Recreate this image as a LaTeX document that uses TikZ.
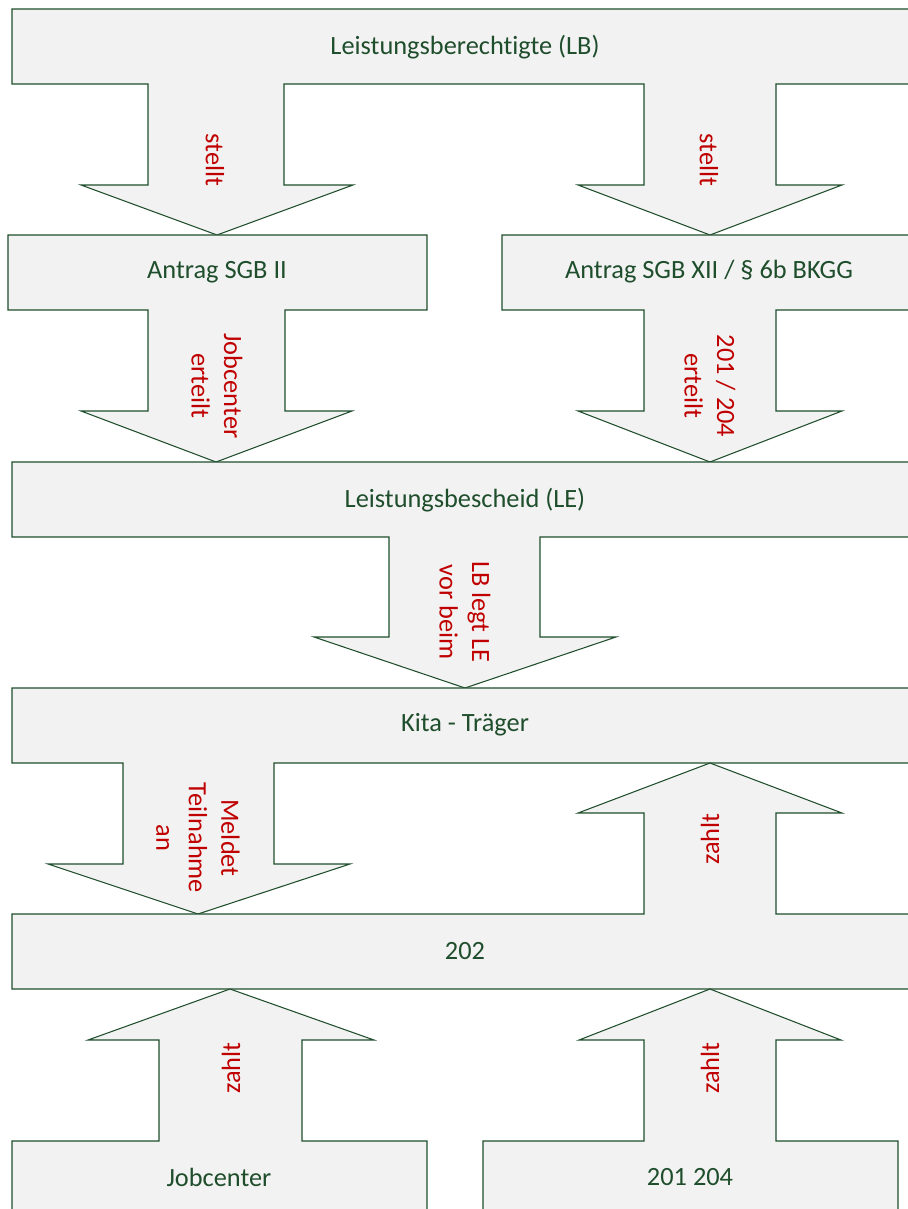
\documentclass[tikz,border=0pt]{standalone}
\usepackage{xcolor}
\usepackage{fontspec}
\setmainfont{Carlito}[Ligatures=NoCommon]
\usepackage{tikz}
\definecolor{fqfqfq}{rgb}{0.949,0.949,0.949}
\definecolor{cqqqqq}{rgb}{0.753,0.,0.}
\definecolor{qqcqqq}{rgb}{0.122,0.306,0.173}
\tikzstyle{every node}=[font=\fontsize{15}{18.5}\selectfont]
\tikzset{blockpart/.style={line width=0.6pt,draw=qqcqqq,fill=fqfqfq,line join=miter},
  boxlabel/.style={text=qqcqqq},
  downlabel/.style={text=cqqqqq,rotate=-90,align=center},
  uplabel/.style={text=cqqqqq,rotate=90,align=center}}

\begin{document}
\begin{tikzpicture}[line cap=round,x=0.02cm,y=-0.02cm]
\useasboundingbox (0,0) rectangle (908,1209);
\clip (0,0) rectangle (908,1209);
% Leistungsberechtigte with its two arrows
\draw [blockpart] (12,9) -- (915,9) -- (915,84) -- (776,84) -- (776,185) -- (842,185) -- (710,235) -- (578,185) -- (644,185) -- (644,84) -- (284,84) -- (284,185) -- (353,185) -- (217,235) -- (81,185) -- (148,185) -- (148,84) -- (12,84) -- cycle;
% the two applications
\draw [blockpart] (8,235) -- (427,235) -- (427,310) -- (285,310) -- (285,411) -- (352,411) -- (216,462) -- (81,411) -- (148,411) -- (148,310) -- (8,310) -- cycle;
\draw [blockpart] (502,235) -- (915,235) -- (915,310) -- (776,310) -- (776,411) -- (842,411) -- (710,462) -- (578,411) -- (644,411) -- (644,310) -- (502,310) -- cycle;
% Leistungsbescheid
\draw [blockpart] (12,462) -- (915,462) -- (915,537) -- (540,537) -- (540,637) -- (616,637) -- (465,688) -- (314,637) -- (389,637) -- (389,537) -- (12,537) -- cycle;
% Kita
\draw [blockpart] (12,688) -- (915,688) -- (915,763) -- (274,763) -- (274,864) -- (350,864) -- (198,914) -- (48,864) -- (123,864) -- (123,763) -- (12,763) -- cycle;
% 202 with the arrow up to Kita
\draw [blockpart] (12,914) -- (644,914) -- (644,813) -- (578,813) -- (710,763) -- (842,813) -- (776,813) -- (776,914) -- (915,914) -- (915,989) -- (12,989) -- cycle;
% payers
\draw [blockpart] (12,1215) -- (12,1141) -- (159,1141) -- (159,1040) -- (88,1040) -- (230,989) -- (374,1040) -- (302,1040) -- (302,1141) -- (427,1141) -- (427,1215);
\draw [blockpart] (483,1215) -- (483,1141) -- (644,1141) -- (644,1040) -- (579,1040) -- (710,989) -- (841,1040) -- (776,1040) -- (776,1141) -- (898,1141) -- (898,1215);

\node [boxlabel] (lb) at (465,47) {Leistungsberechtigte (LB)};
\node [boxlabel] (sgbii) at (217,272) {Antrag SGB II};
\node [boxlabel] (sgbxii) at (709,272) {Antrag SGB XII / § 6b BKGG};
\node [boxlabel] (le) at (465,500) {Leistungsbescheid (LE)};
\node [boxlabel] (kita) at (465,725) {Kita - Träger};
\node [boxlabel] (zwo) at (465,951) {202};
\node [boxlabel] (jc) at (219,1177) {Jobcenter};
\node [boxlabel] (amt) at (690,1177) {201 204};

\node [downlabel] (stellta) at (215,160) {stellt};
\node [downlabel] (stelltb) at (709,160) {stellt};
\node [downlabel] (erteilta) at (217,386) {Jobcenter\\erteilt};
\node [downlabel] (erteiltb) at (710,386) {201 / 204\\erteilt};
\node [downlabel] (vorlage) at (465,612) {LB legt LE\\vor beim};
\node [downlabel] (meldet) at (198,838) {Meldet\\Teilnahme\\an};
\node [uplabel] (zahlta) at (710,839) {zahlt};
\node [uplabel] (zahltb) at (231,1068) {zahlt};
\node [uplabel] (zahltc) at (710,1068) {zahlt};
\end{tikzpicture}
\end{document}
